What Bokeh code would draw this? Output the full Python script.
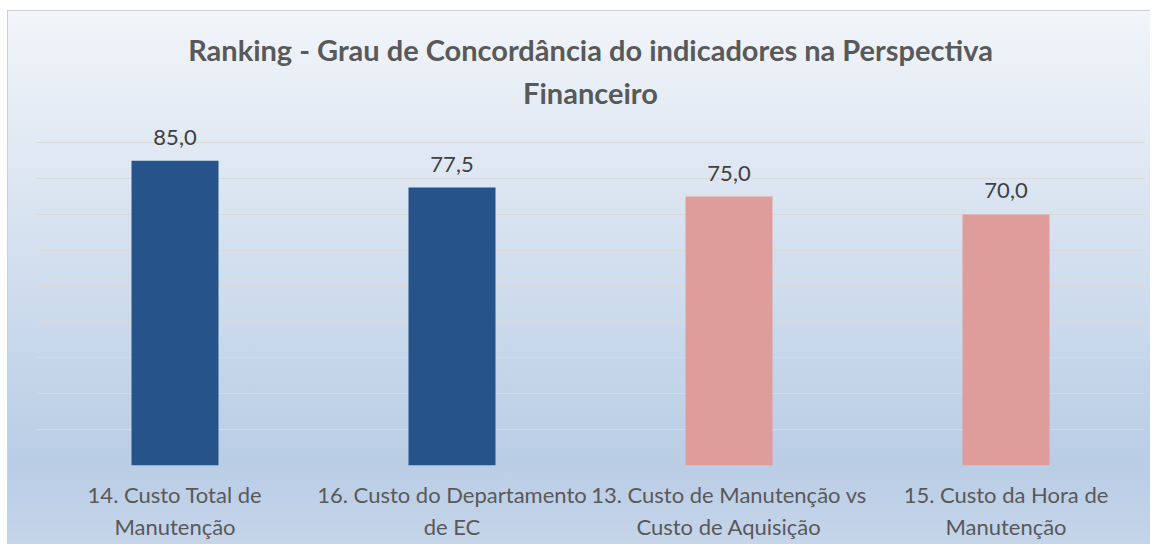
from bokeh.plotting import figure
from bokeh.models import ColumnDataSource, FixedTicker, Title, Range1d
from bokeh.core.properties import value
from bokeh.embed import file_html
from bokeh.resources import INLINE

categories = ["14. Custo Total de\nManutenção", "16. Custo do Departamento\nde EC",
              "13. Custo de Manutenção vs\nCusto de Aquisição", "15. Custo da Hora de\nManutenção"]
values = [85.0, 77.5, 75.0, 70.0]
colors = ["#26548A", "#26548A", "#DE9C9A", "#DE9C9A"]
labels = [f"{v:.1f}".replace(".", ",") for v in values]
title_line1 = "Ranking - Grau de Concordância do indicadores na Perspectiva"
title_line2 = "Financeiro"
grid_ticks = [0, 10, 20, 30, 40, 50, 60, 70, 80, 90]

src = ColumnDataSource(dict(cat=categories, val=values, color=colors, label=labels))

FONT = "Lato"
GRAY = "#595959"

p = figure(x_range=categories, y_range=Range1d(0, 96.2), width=1150, height=544,
           output_backend="svg", toolbar_location=None, tools="",
           min_border_left=36, min_border_right=6, min_border_top=120, min_border_bottom=79)
p.x_range.range_padding = 0
p.title = None
t2 = Title(text=title_line2, align="center", text_font=FONT, text_font_size="29px",
           text_font_style="bold", text_color=GRAY, standoff=17, vertical_align="top")
t1 = Title(text=title_line1, align="center", text_font=FONT, text_font_size="29px",
           text_font_style="bold", text_color=GRAY, standoff=0, vertical_align="bottom")
p.add_layout(t2, "above")
p.add_layout(t1, "above")

p.vbar(x="cat", top="val", width=0.314, color="color", source=src, line_color=None)
p.text(x="cat", y="val", text="label", source=src, text_align="center", text_baseline="bottom",
       y_offset=-16, text_font=value(FONT), text_font_size="22px", text_color="#404040")

p.background_fill_color = None
p.border_fill_color = None
p.outline_line_color = None
p.styles = {"background": ("linear-gradient(#cfcfcf,#cfcfcf) 7px 10px / 100% 1px no-repeat, "
                           "linear-gradient(#cfcfcf,#cfcfcf) 7px 10px / 1px 100% no-repeat, "
                           "linear-gradient(#ffffff,#ffffff) 0 0 / 100% 10px no-repeat, "
                           "linear-gradient(#ffffff,#ffffff) 0 0 / 7px 100% no-repeat, "
                           "linear-gradient(180deg, #f3f6fa 0%, #b9cde5 85%, #c5d5ea 100%)")}

p.yaxis.visible = False
p.yaxis.ticker = FixedTicker(ticks=grid_ticks)
p.ygrid.ticker = FixedTicker(ticks=grid_ticks)
p.ygrid.grid_line_color = "#d9d9d9"
p.xgrid.grid_line_color = None

p.xaxis.axis_line_color = None
p.xaxis.major_tick_line_color = None
p.xaxis.minor_tick_line_color = None
p.xaxis.major_label_text_font = FONT
p.xaxis.major_label_text_font_size = "22px"
p.xaxis.major_label_text_color = GRAY
p.xaxis.major_label_standoff = 9

open("out.html", "w").write(file_html(p, INLINE))
